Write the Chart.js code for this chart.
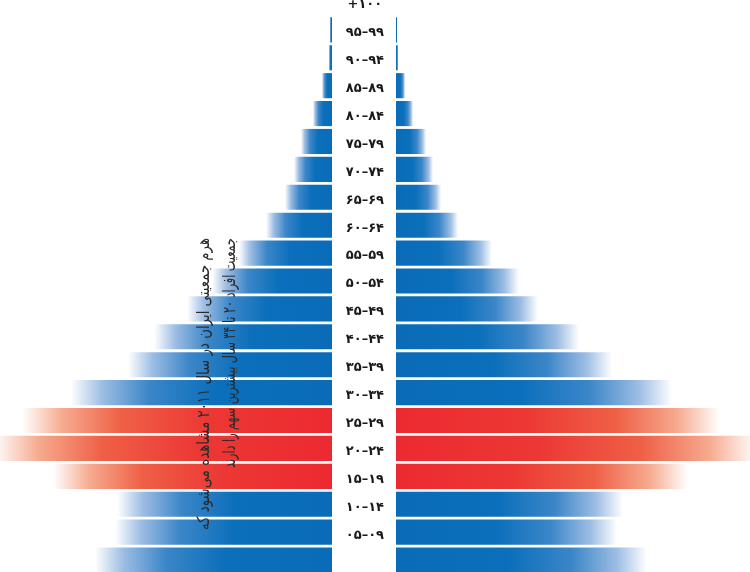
<!DOCTYPE html>
<html>
<head>
<meta charset="utf-8">
<script src="https://cdn.jsdelivr.net/npm/chart.js@4.4.0/dist/chart.umd.min.js"></script>
<style>
  html, body { margin: 0; padding: 0; background: #fff; overflow: hidden; width: 750px; height: 572px; }
  #leftBox  { position: absolute; left: 0;     top: -12px; width: 332px; height: 586px; }
  #rightBox { position: absolute; left: 332px; top: -12px; width: 418px; height: 586px; }
</style>
</head>
<body>
<div id="leftBox"><canvas id="leftChart"></canvas></div>
<div id="rightBox"><canvas id="rightChart"></canvas></div>
<script>
// گروه‌های سنی (از پایین به بالا)
const ageGroups = ['', '۰۵–۰۹', '۱۰–۱۴', '۱۵–۱۹', '۲۰–۲۴', '۲۵–۲۹', '۳۰–۳۴', '۳۵–۳۹', '۴۰–۴۴', '۴۵–۴۹',
  '۵۰–۵۴', '۵۵–۵۹', '۶۰–۶۴', '۶۵–۶۹', '۷۰–۷۴', '۷۵–۷۹', '۸۰–۸۴', '۸۵–۸۹', '۹۰–۹۴', '۹۵–۹۹', '+۱۰۰'];

// جمعیت (هزار نفر) - سمت چپ و سمت راست
const leftValues  = [2726, 2496, 2473, 3209, 3887, 3565, 3002, 2346, 2047, 1668, 1380, 1070, 759, 541, 437, 357, 219, 115, 35, 23, 0];
const rightValues = [2887, 2542, 2611, 3358, 4150, 3726, 3174, 2484, 2105, 1633, 1415, 1104, 713, 518, 426, 345, 196, 104, 23, 17, 0];

// گروه‌های پررنگ شده
const highlightGroups = ['۱۵–۱۹', '۲۰–۲۴', '۲۵–۲۹'];

const noteLines = ['هرم جمعیتی ایران در سال ۲۰۱۱ مشاهده می‌شود که', 'جمعیت افراد ۲۰ تا ۳۴ سال بیشترین سهم را دارند'];

const leftMax = 3818;
const rightMax = 4071;

const blueStops = [[0, '#0a6cb9'], [0.45, '#0b6fbb'], [0.7, '#3b86c8'], [0.88, '#9dbde3'], [1, 'rgba(255,255,255,1)']];
const redStops  = [[0, '#ec2a31'], [0.4, '#ec3834'], [0.68, '#ef6046'], [0.87, '#f6ab90'], [1, 'rgba(255,255,255,1)']];

// رنگ گرادیانی برای هر میله
function barFill(c) {
  const stops = highlightGroups.includes(ageGroups[c.index]) ? redStops : blueStops;
  const chart = c.chart;
  if (c.type !== 'data' || !chart.chartArea || !chart.scales.x) return stops[0][1];
  const xs = chart.scales.x;
  const x0 = xs.getPixelForValue(0);
  const x1 = xs.getPixelForValue(c.raw);
  if (Math.abs(x1 - x0) < 1) return stops[0][1];
  const g = chart.ctx.createLinearGradient(x0, 0, x1, 0);
  stops.forEach(s => g.addColorStop(s[0], s[1]));
  return g;
}

// متن عمودی روی نمودار
const notePlugin = {
  id: 'notePlugin',
  afterDatasetsDraw(chart) {
    const ctx = chart.ctx;
    const cols = [205, 231];
    const lens = [292, 230];
    ctx.save();
    ctx.fillStyle = '#2b2b2b';
    ctx.font = '17px "DejaVu Sans"';
    ctx.textBaseline = 'middle';
    noteLines.forEach((t, i) => {
      ctx.save();
      ctx.translate(cols[i], 250);
      ctx.rotate(-Math.PI / 2);
      ctx.direction = 'rtl';
      ctx.textAlign = 'right';
      const w = ctx.measureText(t).width;
      ctx.scale(lens[i] / w, 1);
      ctx.fillText(t, 0, 0);
      ctx.restore();
    });
    ctx.restore();
  }
};

function makeChart(id, values, max, reverse, showLabels, plugins) {
  return new Chart(document.getElementById(id), {
    type: 'bar',
    data: {
      labels: ageGroups,
      datasets: [{
        data: values,
        backgroundColor: barFill,
        borderWidth: 0,
        categoryPercentage: 1,
        barPercentage: 0.9
      }]
    },
    options: {
      indexAxis: 'y',
      responsive: true,
      maintainAspectRatio: false,
      animation: false,
      layout: { padding: 0 },
      plugins: { legend: { display: false }, tooltip: { enabled: false } },
      scales: {
        x: {
          display: false,
          min: 0,
          max: max,
          reverse: reverse
        },
        y: {
          display: showLabels,
          reverse: true,
          position: 'left',
          grid: { display: false, drawTicks: false },
          border: { display: false },
          afterFit: s => {
            s.width = showLabels ? 64 : 0;
            s.paddingTop = 0;
            s.paddingBottom = 0;
          },
          ticks: {
            crossAlign: 'center',
            padding: 12,
            labelOffset: 3,
            color: '#1a1a1a',
            font: { family: 'DejaVu Sans', size: 13, weight: 'bold' }
          }
        }
      }
    },
    plugins: plugins
  });
}

makeChart('leftChart', leftValues, leftMax, true, false, [notePlugin]);
makeChart('rightChart', rightValues, rightMax, false, true, []);
</script>
</body>
</html>
